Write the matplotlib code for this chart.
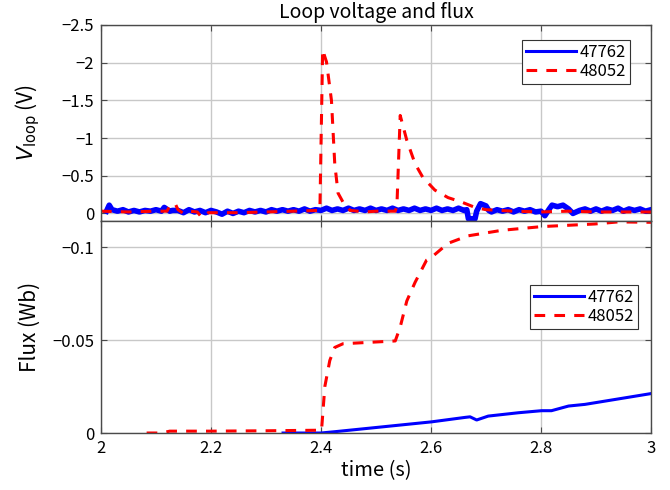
import matplotlib
matplotlib.use("Agg")
import matplotlib.pyplot as plt
from matplotlib.ticker import FuncFormatter

plt.rcParams['font.family'] = ['Noto Sans CJK JP', 'DejaVu Sans']
plt.rcParams['axes.unicode_minus'] = True

shots = ["47762", "48052"]

# loop voltage, shot 47762 (V)
t_v_47762 = [2.010, 2.015, 2.020, 2.030, 2.040, 2.050, 2.060, 2.070, 2.080, 2.090,
             2.100, 2.110, 2.115, 2.125, 2.130, 2.140, 2.150, 2.160, 2.170, 2.180,
             2.190, 2.200, 2.210, 2.220, 2.230, 2.240, 2.250, 2.260, 2.270, 2.280,
             2.290, 2.300, 2.310, 2.320, 2.330, 2.340, 2.350, 2.360, 2.370, 2.380,
             2.390, 2.400, 2.410, 2.420, 2.430, 2.440, 2.450, 2.460, 2.470, 2.480,
             2.490, 2.500, 2.510, 2.520, 2.530, 2.540, 2.550, 2.560, 2.570, 2.580,
             2.590, 2.600, 2.610, 2.620, 2.630, 2.640, 2.650, 2.660, 2.665, 2.668,
             2.680, 2.683, 2.690, 2.700, 2.705, 2.710, 2.720, 2.730, 2.740, 2.750,
             2.760, 2.770, 2.780, 2.790, 2.800, 2.807, 2.815, 2.820, 2.830, 2.840,
             2.850, 2.858, 2.870, 2.880, 2.890, 2.900, 2.910, 2.920, 2.930, 2.940,
             2.950, 2.960, 2.970, 2.980, 2.990, 3.000]
v_47762 = [-0.03, -0.11, -0.05, -0.03, -0.05, -0.02, -0.04, -0.02, -0.04, -0.03,
           -0.05, -0.03, -0.08, -0.03, -0.04, -0.04, -0.01, -0.05, -0.02, -0.04,
           -0.01, -0.04, -0.02, 0.01, -0.03, 0.00, -0.03, -0.01, -0.04, -0.02,
           -0.04, -0.02, -0.05, -0.03, -0.05, -0.03, -0.05, -0.03, -0.06, -0.03,
           -0.05, -0.04, -0.07, -0.04, -0.06, -0.04, -0.07, -0.04, -0.06, -0.04,
           -0.07, -0.04, -0.06, -0.04, -0.07, -0.04, -0.06, -0.04, -0.07, -0.04,
           -0.06, -0.04, -0.07, -0.04, -0.06, -0.04, -0.07, -0.04, -0.05, 0.07,
           0.07, -0.03, -0.13, -0.10, -0.04, -0.02, -0.05, -0.03, -0.05, -0.02,
           -0.05, -0.03, -0.05, -0.02, -0.03, 0.03, -0.06, -0.11, -0.09, -0.11,
           -0.06, 0.00, -0.04, -0.06, -0.03, -0.06, -0.03, -0.06, -0.04, -0.07,
           -0.03, -0.06, -0.04, -0.06, -0.03, -0.05]

# loop voltage, shot 48052 (V)
t_v_48052 = [2.000, 2.050, 2.100, 2.120, 2.125, 2.135, 2.140, 2.150, 2.160, 2.175,
             2.183, 2.195, 2.250, 2.300, 2.350, 2.398, 2.403, 2.410, 2.419, 2.425,
             2.431, 2.440, 2.453, 2.480, 2.500, 2.535, 2.538, 2.544, 2.556, 2.571,
             2.585, 2.607, 2.631, 2.656, 2.680, 2.700, 2.750, 2.800, 2.850, 2.900,
             3.000]
v_48052 = [-0.03, -0.02, -0.03, -0.03, -0.10, -0.13, -0.05, 0.00, -0.03, -0.02,
           0.05, -0.01, -0.01, -0.02, -0.03, -0.04, -2.17, -2.01, -1.50, -0.66,
           -0.27, -0.15, -0.04, -0.02, -0.03, -0.03, -0.10, -1.30, -0.97, -0.66,
           -0.48, -0.31, -0.21, -0.15, -0.08, -0.05, -0.03, -0.02, -0.03, -0.02,
           -0.02]

# flux, shot 47762 (Wb)
t_f_47762 = [2.331, 2.400, 2.425, 2.601, 2.662, 2.671, 2.683, 2.704, 2.759, 2.801,
             2.819, 2.850, 2.880, 3.000]
f_47762 = [0.0, 0.0, -0.0007, -0.006, -0.0084, -0.0087, -0.0070, -0.0091, -0.0109, -0.012,
           -0.012, -0.0145, -0.0154, -0.0212]

# flux, shot 48052 (Wb)
t_f_48052 = [2.083, 2.110, 2.125, 2.200, 2.300, 2.398, 2.401, 2.407, 2.416, 2.425,
             2.440, 2.535, 2.544, 2.556, 2.571, 2.592, 2.601, 2.631, 2.667, 2.729,
             2.802, 2.898, 2.940, 3.000]
f_48052 = [0.0, 0.0, -0.001, -0.001, -0.0012, -0.0015, -0.0016, -0.025, -0.039, -0.046,
           -0.048, -0.0495, -0.057, -0.071, -0.081, -0.093, -0.0945, -0.102, -0.106, -0.109,
           -0.111, -0.1124, -0.1135, -0.1133]

blue = '#0000ff'
red = '#ff0000'
dash = (3.5, 3.0)


def fmt(x, pos):
    s = '{:g}'.format(round(x, 4))
    return s.replace('-', '\u2212')


def style(ax):
    ax.grid(True, color='#c8c8c8', linewidth=1.0)
    ax.set_axisbelow(True)
    for sp in ax.spines.values():
        sp.set_color('#4a4a4a')
        sp.set_linewidth(1.0)
    ax.tick_params(direction='in', top=True, right=True, length=4,
                   color='#4a4a4a', labelsize=12, pad=5)
    ax.yaxis.set_major_formatter(FuncFormatter(fmt))
    ax.xaxis.set_major_formatter(FuncFormatter(fmt))
    ax.set_xlim(2, 3)
    ax.set_xticks([2, 2.2, 2.4, 2.6, 2.8, 3])


def legend(ax, anchor):
    leg = ax.legend(loc='upper right', bbox_to_anchor=anchor, fontsize=12,
                    handlelength=3.0, handletextpad=0.2, borderpad=0.25,
                    labelspacing=0.1, borderaxespad=0, fancybox=False, framealpha=1)
    leg.get_frame().set_edgecolor('#333333')
    leg.get_frame().set_linewidth(0.8)
    leg.get_lines()[0].set_linewidth(2.2)
    return leg


fig = plt.figure(figsize=(6.7, 4.9), dpi=100)
ax1 = fig.add_axes([0.1507, 0.549, 0.821, 0.400])
ax2 = fig.add_axes([0.1507, 0.1163, 0.821, 0.4327])

# top panel: loop voltage
ax1.plot(t_v_47762, v_47762, color=blue, linewidth=4.0, label=shots[0])
ax1.plot(t_v_48052, v_48052, color=red, linewidth=2.2, dashes=dash, label=shots[1])
style(ax1)
ax1.set_ylim(0.1, -2.5)
ax1.set_yticks([-2.5, -2, -1.5, -1, -0.5, 0])
ax1.tick_params(labelbottom=False)
ax1.set_ylabel(r'$V_{\mathrm{loop}}$ (V)', fontsize=15, labelpad=14)
ax1.set_title('Loop voltage and flux', fontsize=14, pad=5)
legend(ax1, (0.962, 0.923))

# bottom panel: flux
ax2.plot(t_f_47762, f_47762, color=blue, linewidth=2.2, label=shots[0])
ax2.plot(t_f_48052, f_48052, color=red, linewidth=2.2, dashes=dash, label=shots[1])
style(ax2)
ax2.set_ylim(0, -0.114)
ax2.set_yticks([-0.1, -0.05, 0])
ax2.set_ylabel('Flux (Wb)', fontsize=15, labelpad=8)
ax2.set_xlabel('time (s)', fontsize=14.5, labelpad=2)
legend(ax2, (0.976, 0.698))

fig.savefig('out.png', dpi=100)
